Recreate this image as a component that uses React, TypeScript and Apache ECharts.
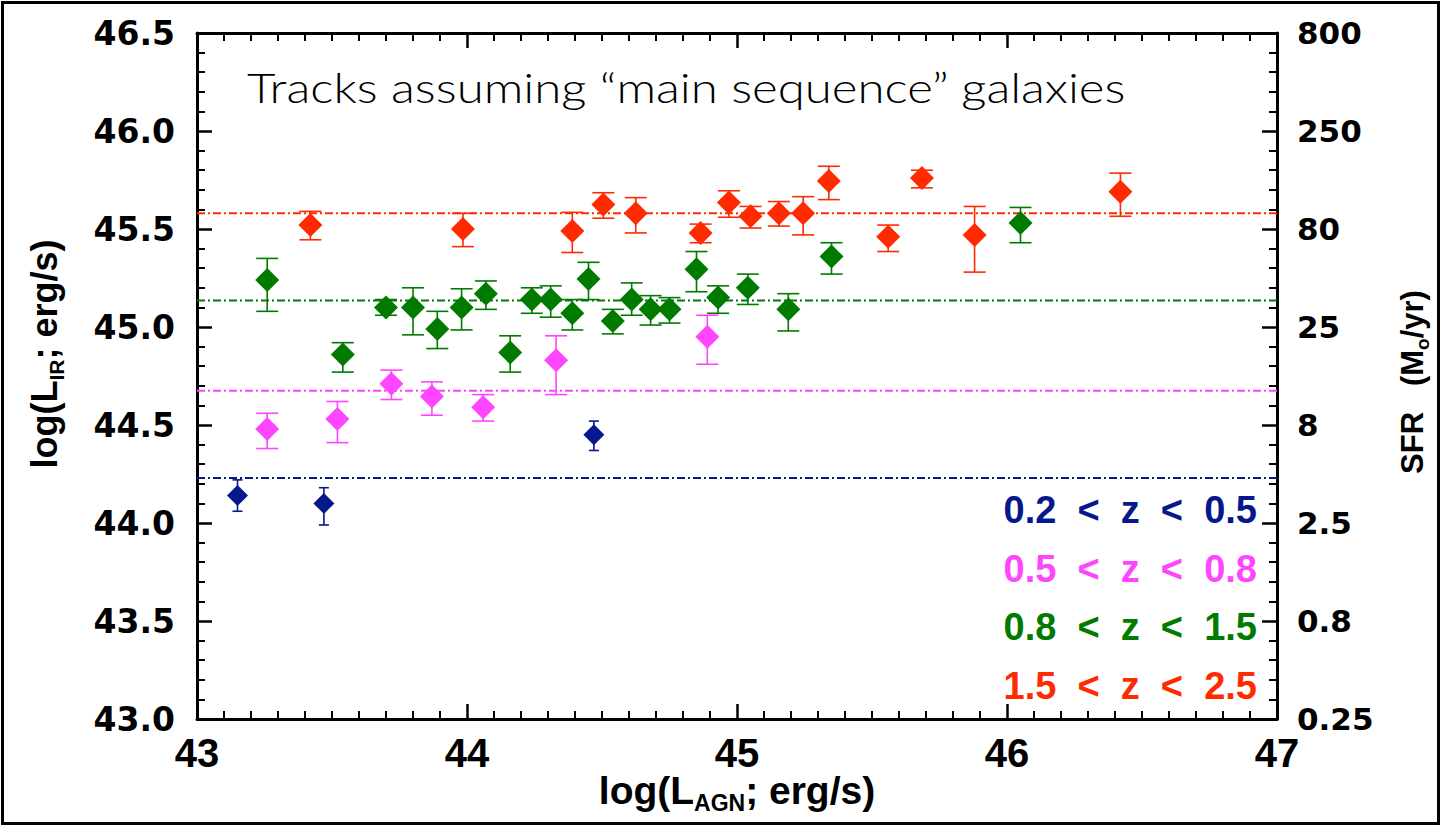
import React, { useEffect, useRef } from "react";
import * as echarts from "echarts";

// Tick labels: left axis in log L_IR, right axis the equivalent SFR
const irTickLabels = ["43.0", "43.5", "44.0", "44.5", "45.0", "45.5", "46.0", "46.5"];
const sfrTickLabels = ["0.25", "0.8", "2.5", "8", "25", "80", "250", "800"];

// Redshift bins, colours and main-sequence track levels (log L_IR)
const binNames = ["0.2 < z < 0.5", "0.5 < z < 0.8", "0.8 < z < 1.5", "1.5 < z < 2.5"];
const binColors = ["#06188c", "#ff45ff", "#007b00", "#ff2a00"];
const trackLevels = [44.23, 44.675, 45.135, 45.58];

// Each point: [log L_AGN, log L_IR, lower bound, upper bound]
const binLow = [
  [43.15, 44.14, 44.06, 44.22],
  [43.47, 44.1, 43.99, 44.18],
  [44.47, 44.45, 44.37, 44.52],
];

const binMid = [
  [43.26, 44.48, 44.38, 44.56],
  [43.52, 44.53, 44.41, 44.62],
  [43.72, 44.71, 44.63, 44.78],
  [43.87, 44.645, 44.55, 44.72],
  [44.06, 44.59, 44.52, 44.655],
  [44.33, 44.83, 44.655, 44.955],
  [44.89, 44.95, 44.81, 45.06],
];

const binHigh = [
  [43.26, 45.24, 45.08, 45.35],
  [43.54, 44.86, 44.77, 44.92],
  [43.7, 45.1, 45.06, 45.14],
  [43.8, 45.1, 44.96, 45.2],
  [43.89, 44.99, 44.89, 45.08],
  [43.98, 45.1, 44.985, 45.195],
  [44.07, 45.17, 45.09, 45.235],
  [44.16, 44.87, 44.77, 44.955],
  [44.24, 45.14, 45.07, 45.2],
  [44.31, 45.14, 45.05, 45.21],
  [44.39, 45.07, 44.985, 45.14],
  [44.45, 45.245, 45.14, 45.33],
  [44.54, 45.03, 44.965, 45.09],
  [44.61, 45.14, 45.06, 45.225],
  [44.68, 45.09, 45.01, 45.16],
  [44.75, 45.09, 45.02, 45.15],
  [44.85, 45.295, 45.18, 45.385],
  [44.93, 45.15, 45.07, 45.21],
  [45.04, 45.2, 45.115, 45.27],
  [45.19, 45.09, 44.98, 45.17],
  [45.35, 45.36, 45.27, 45.43],
  [46.05, 45.53, 45.43, 45.61],
];

const binTop = [
  [43.42, 45.52, 45.445, 45.59],
  [43.985, 45.5, 45.41, 45.58],
  [44.39, 45.49, 45.38, 45.585],
  [44.505, 45.625, 45.555, 45.685],
  [44.625, 45.58, 45.48, 45.66],
  [44.865, 45.48, 45.43, 45.525],
  [44.97, 45.635, 45.56, 45.695],
  [45.05, 45.565, 45.505, 45.615],
  [45.155, 45.58, 45.515, 45.64],
  [45.245, 45.58, 45.47, 45.665],
  [45.34, 45.745, 45.65, 45.82],
  [45.56, 45.46, 45.385, 45.52],
  [45.685, 45.76, 45.71, 45.8],
  [45.88, 45.47, 45.28, 45.615],
  [46.42, 45.69, 45.565, 45.785],
];

const binData = [binLow, binMid, binHigh, binTop];
const markerSizes = [21, 24, 24, 24];
const capWidths = [10, 22, 22, 22];

const X_MIN = 43;
const X_MAX = 47;
const Y_MIN = 43;
const Y_MAX = 46.5;

const boldFont = "'Liberation Sans', Arial, Helvetica, sans-serif";
const wideFont = "'DejaVu Sans', 'Liberation Sans', sans-serif";
const narrowFont = "'Liberation Sans Narrow', 'Liberation Sans', Arial, sans-serif";

function errorBarSeries(data: number[][], color: string, cap: number) {
  return {
    type: "custom",
    data,
    encode: { x: 0, y: [2, 3] },
    silent: true,
    z: 3,
    renderItem: (_params: any, api: any) => {
      const x = api.value(0);
      const lo = api.coord([x, api.value(2)]);
      const hi = api.coord([x, api.value(3)]);
      const h = cap / 2;
      const style = { stroke: color, lineWidth: 1.6, fill: "none" };
      return {
        type: "group",
        children: [
          { type: "line", shape: { x1: lo[0], y1: lo[1], x2: hi[0], y2: hi[1] }, style },
          { type: "line", shape: { x1: lo[0] - h, y1: lo[1], x2: lo[0] + h, y2: lo[1] }, style },
          { type: "line", shape: { x1: hi[0] - h, y1: hi[1], x2: hi[0] + h, y2: hi[1] }, style },
        ],
      };
    },
  };
}

// Frame axis: the bottom/left ones carry labels, the top/right mirror the ticks
function frameXAxis(position: "bottom" | "top", withLabels: boolean) {
  return {
    type: "value",
    position,
    min: X_MIN,
    max: X_MAX,
    interval: 1,
    axisLine: { show: true, onZero: false, lineStyle: { color: "#000", width: 3 } },
    axisTick: { show: true, inside: true, length: 15, lineStyle: { color: "#000", width: 2.5 } },
    minorTick: { show: true, splitNumber: 10, length: 8, lineStyle: { color: "#000", width: 2 } },
    splitLine: { show: false },
    axisLabel: withLabels
      ? { margin: 14, color: "#000", fontSize: 40, fontWeight: "bold", fontFamily: narrowFont }
      : { show: false },
  };
}

function frameYAxis(position: "left" | "right", labels: string[], margin: number, size: number) {
  return {
    type: "value",
    position,
    min: Y_MIN,
    max: Y_MAX,
    interval: 0.5,
    axisLine: { show: true, onZero: false, lineStyle: { color: "#000", width: 3 } },
    axisTick: { show: true, inside: true, length: 15, lineStyle: { color: "#000", width: 2.5 } },
    minorTick: { show: true, splitNumber: 5, length: 8, lineStyle: { color: "#000", width: 2 } },
    splitLine: { show: false },
    axisLabel: {
      margin,
      color: "#000",
      fontSize: size,
      fontWeight: "bold",
      fontFamily: wideFont,
      formatter: (v: number) => labels[Math.round((v - Y_MIN) / 0.5)] ?? "",
    },
  };
}

export default function App() {
  const ref = useRef<HTMLDivElement>(null);

  useEffect(() => {
    document.body.style.margin = "0";
    if (!ref.current) return;
    const chart = echarts.init(ref.current, undefined, { renderer: "svg" });

    const series: any[] = [];
    trackLevels.forEach((lvl, i) => {
      series.push({
        type: "line",
        data: [
          [X_MIN, lvl],
          [X_MAX, lvl],
        ],
        symbol: "none",
        silent: true,
        z: 2,
        lineStyle: { color: binColors[i], width: 2, type: [8, 3, 2, 3] },
      });
    });
    binData.forEach((pts, i) => {
      series.push(errorBarSeries(pts, binColors[i], capWidths[i]));
      series.push({
        type: "scatter",
        data: pts.map((p) => [p[0], p[1]]),
        symbol: "diamond",
        symbolSize: markerSizes[i],
        itemStyle: { color: binColors[i], opacity: 1 },
        z: 4,
        silent: true,
      });
    });

    // Axes and data first
    chart.setOption({
      animation: false,
      backgroundColor: "#fff",
      grid: { left: 197, right: 164, top: 33, bottom: 107 },
      xAxis: [frameXAxis("bottom", true), frameXAxis("top", false)],
      yAxis: [frameYAxis("left", irTickLabels, 22, 33), frameYAxis("right", sfrTickLabels, 20, 31)],
      series,
    });

    // Titles and the redshift key
    const legendTexts = binNames.map((name, i) => ({
      type: "text",
      x: 1257,
      y: 510 + i * 58.7,
      style: {
        text: name.split(" ").join("\u00a0\u00a0"),
        fill: binColors[i],
        font: `bold 38px ${boldFont}`,
        textAlign: "right",
        textVerticalAlign: "middle",
      },
    }));

    chart.setOption({
      graphic: [
        {
          type: "text",
          x: 247,
          y: 87,
          scaleX: 1.2,
          style: {
            text: "Tracks assuming \u201cmain sequence\u201d galaxies",
            fill: "#000",
            font: "300 41px Lato, 'Open Sans', sans-serif",
            textAlign: "left",
            textVerticalAlign: "middle",
          },
        },
        {
          type: "text",
          x: 737,
          y: 790,
          style: {
            text: "{a|log(L}{s|AGN}{a|; erg/s)}",
            textAlign: "center",
            textVerticalAlign: "middle",
            rich: {
              a: { fontSize: 39, fontWeight: "bold", fontFamily: narrowFont, fill: "#000" },
              s: { fontSize: 23, fontWeight: "bold", fontFamily: narrowFont, fill: "#000", padding: [26, 0, 0, 0] },
            },
          },
        },
        {
          type: "text",
          x: 44,
          y: 354,
          rotation: Math.PI / 2,
          style: {
            text: "{a|log(L}{s|IR}{a|; erg/s)}",
            textAlign: "center",
            textVerticalAlign: "middle",
            rich: {
              a: { fontSize: 36, fontWeight: "bold", fontFamily: boldFont, fill: "#000" },
              s: { fontSize: 21, fontWeight: "bold", fontFamily: boldFont, fill: "#000", padding: [24, 0, 0, 0] },
            },
          },
        },
        {
          type: "text",
          x: 1412,
          y: 382,
          rotation: Math.PI / 2,
          style: {
            text: "{a|SFR\u00a0\u00a0\u00a0(M}{s|o}{a|/yr)}",
            textAlign: "center",
            textVerticalAlign: "middle",
            rich: {
              a: { fontSize: 31, fontWeight: "bold", fontFamily: boldFont, fill: "#000" },
              s: { fontSize: 19, fontWeight: "bold", fontFamily: boldFont, fill: "#000", padding: [20, 0, 0, 0] },
            },
          },
        },
        ...legendTexts,
      ],
    });

    return () => chart.dispose();
  }, []);

  return (
    <div style={{ position: "relative", width: 1441, height: 826 }}>
      <div ref={ref} style={{ position: "absolute", left: 0, top: 0, width: 1441, height: 826 }} />
      <div
        style={{
          position: "absolute",
          left: 1,
          top: 1,
          width: 1439,
          height: 824,
          boxSizing: "border-box",
          border: "3.5px solid #000",
          pointerEvents: "none",
        }}
      />
    </div>
  );
}
